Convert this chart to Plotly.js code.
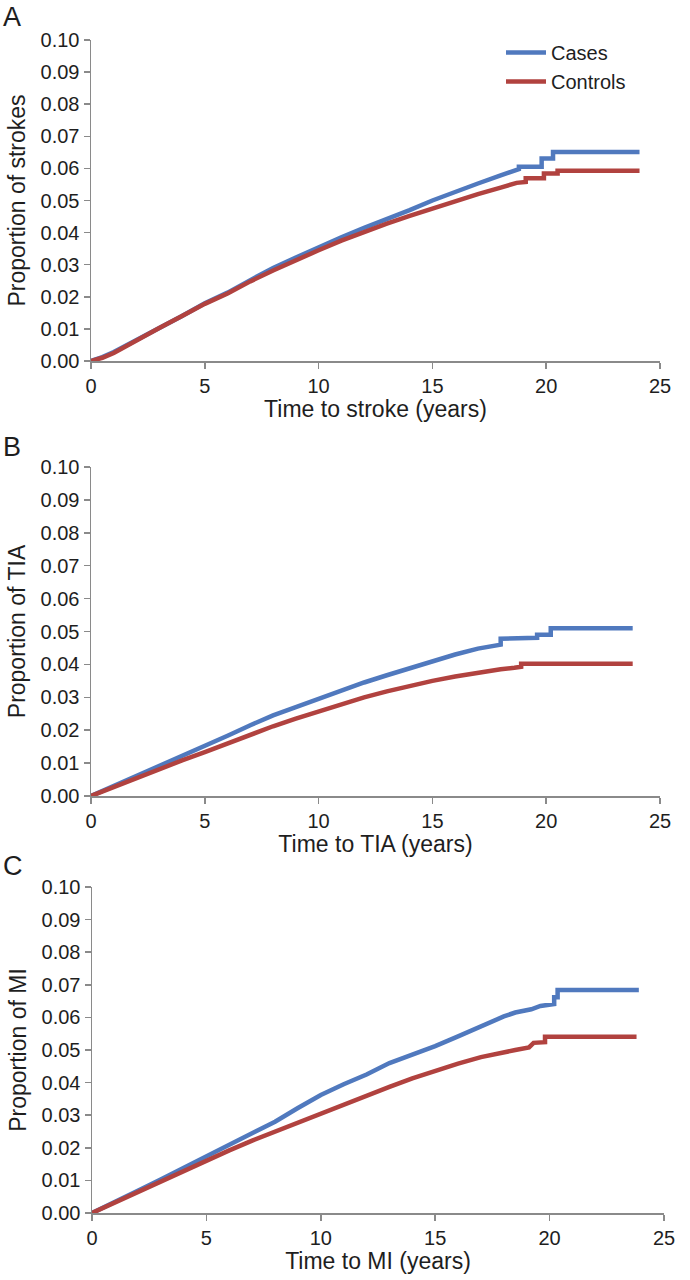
<!DOCTYPE html>
<html>
<head>
<meta charset="utf-8">
<script src="https://cdn.plot.ly/plotly-3.0.1.min.js"></script>
<style>html,body{margin:0;padding:0;background:#fff;} #chart{width:690px;height:1280px;}</style>
</head>
<body>
<div id="chart"></div>
<script>
// ---- Data ----
var seriesNames = ["Cases", "Controls"];
var panelLetters = ["A", "B", "C"];
var xTitles = ["Time to stroke (years)", "Time to TIA (years)", "Time to MI (years)"];
var yTitles = ["Proportion of strokes", "Proportion of TIA", "Proportion of MI"];
var xTickVals = [0, 5, 10, 15, 20, 25];
var yTickVals = [0, 0.01, 0.02, 0.03, 0.04, 0.05, 0.06, 0.07, 0.08, 0.09, 0.10];

// Panel A: stroke
var strokeCasesT = [0,0.5,1,2,3,4,5,6,7,8,9,10,11,12,13,14,15,16,17,18,18.8,18.8,19.8,19.8,20.3,20.3,24.1];
var strokeCasesP = [0,0.0012,0.0028,0.0065,0.0103,0.014,0.018,0.0213,0.0252,0.029,0.0322,0.0355,0.0385,0.0415,0.0442,0.047,0.05,0.0528,0.0553,0.0578,0.0598,0.0605,0.0605,0.0631,0.0631,0.0651,0.0651];
var strokeCtrlT = [0,0.5,1,2,3,4,5,6,7,8,9,10,11,12,13,14,15,16,17,18,18.7,19.1,19.1,19.9,19.9,20.5,20.5,24.1];
var strokeCtrlP = [0,0.001,0.0025,0.0065,0.0103,0.014,0.0178,0.021,0.0248,0.0282,0.0315,0.0345,0.0375,0.0402,0.0428,0.0452,0.0475,0.0498,0.052,0.054,0.0555,0.0558,0.0569,0.0569,0.0584,0.0584,0.0593,0.0593];

// Panel B: TIA
var tiaCasesT = [0,1,2,3,4,5,6,7,8,9,10,11,12,13,14,15,16,17,18.0,18.0,19.6,19.6,20.2,20.2,23.8];
var tiaCasesP = [0,0.003,0.0063,0.0093,0.0123,0.0153,0.0183,0.0215,0.0245,0.027,0.0296,0.0322,0.0345,0.0367,0.0388,0.041,0.043,0.0448,0.046,0.0478,0.0481,0.049,0.049,0.051,0.051];
var tiaCtrlT = [0,1,2,3,4,5,6,7,8,9,10,11,12,13,14,15,16,17,18,18.6,18.9,18.9,23.8];
var tiaCtrlP = [0,0.0027,0.0056,0.0083,0.0108,0.0133,0.016,0.0187,0.0212,0.0235,0.0257,0.0279,0.03,0.0318,0.0335,0.035,0.0363,0.0375,0.0385,0.039,0.0393,0.0402,0.0402];

// Panel C: MI
var miCasesT = [0,1,2,3,4,5,6,7,8,9,10,11,12,13,14,15,16,17,18,18.5,19.2,19.6,20.2,20.2,20.35,20.35,23.9];
var miCasesP = [0,0.0033,0.0068,0.0103,0.0138,0.0173,0.021,0.0245,0.028,0.0322,0.0362,0.0395,0.0425,0.046,0.0485,0.0512,0.0542,0.0573,0.0603,0.0615,0.0625,0.0635,0.0641,0.0662,0.0662,0.0684,0.0684];
var miCtrlT = [0,1,2,3,4,5,6,7,8,9,10,11,12,13,14,15,16,17,17.6,18.5,19.1,19.3,19.8,19.8,23.8];
var miCtrlP = [0,0.0032,0.0065,0.0097,0.013,0.0162,0.0192,0.0222,0.025,0.0277,0.0303,0.0332,0.036,0.0387,0.0413,0.0437,0.0458,0.0478,0.0488,0.05,0.0508,0.0522,0.0524,0.0541,0.0541];

// ---- Styling ----
var colCases = "#5079BE";
var colCtrl = "#B1423F";
var axisCol = "#8a8a8a";
var FONT = "Liberation Sans, Arial, Helvetica, sans-serif";

var panels = [
  {cT: strokeCasesT, cP: strokeCasesP, kT: strokeCtrlT, kP: strokeCtrlP},
  {cT: tiaCasesT, cP: tiaCasesP, kT: tiaCtrlT, kP: tiaCtrlP},
  {cT: miCasesT, cP: miCasesP, kT: miCtrlT, kP: miCtrlP}
];

var H = 1280, W = 690;
var xPix = [[91, 660], [91, 660], [92, 664]];
var yPix = [[40, 361], [467, 796], [887, 1213]]; // top, bottom
var letterY = [17, 447, 866];

var traces = [];
var layout = {
  width: W, height: H,
  margin: {l: 0, r: 0, t: 0, b: 0},
  paper_bgcolor: "#fff", plot_bgcolor: "#fff",
  font: {family: FONT, color: "#1e1e1e", size: 20},
  showlegend: true,
  legend: {x: 501 / W, y: 1 - 33 / H, xanchor: "left", yanchor: "top",
           font: {family: FONT, size: 20, color: "#1e1e1e"}, bgcolor: "rgba(0,0,0,0)",
           tracegroupgap: 0, itemwidth: 40},
  annotations: []
};

panels.forEach(function (p, i) {
  var sfx = i === 0 ? "" : String(i + 1);
  traces.push({x: p.cT, y: p.cP, type: "scatter", mode: "lines", name: seriesNames[0],
    line: {color: colCases, width: 4.5}, xaxis: "x" + sfx, yaxis: "y" + sfx,
    showlegend: i === 0, legendgroup: "cases"});
  traces.push({x: p.kT, y: p.kP, type: "scatter", mode: "lines", name: seriesNames[1],
    line: {color: colCtrl, width: 4.5}, xaxis: "x" + sfx, yaxis: "y" + sfx,
    showlegend: i === 0, legendgroup: "ctrl"});

  var axCommon = {showline: true, linecolor: axisCol, linewidth: 1.5, ticks: "outside",
    ticklen: 6, tickwidth: 1.5, tickcolor: axisCol, showgrid: false, zeroline: false,
    tickfont: {family: FONT, size: 20, color: "#1e1e1e"}, fixedrange: true};
  layout["xaxis" + sfx] = Object.assign({}, axCommon, {
    domain: [xPix[i][0] / W, xPix[i][1] / W], range: [0, 25],
    tickvals: xTickVals, anchor: "y" + sfx,
    title: {text: xTitles[i], font: {family: FONT, size: 23, color: "#1e1e1e"}, standoff: 5}
  });
  layout["yaxis" + sfx] = Object.assign({}, axCommon, {
    domain: [1 - yPix[i][1] / H, 1 - yPix[i][0] / H], range: [0, 0.1],
    tickvals: yTickVals, tickformat: ".2f", anchor: "x" + sfx,
    title: {text: yTitles[i], font: {family: FONT, size: 23, color: "#1e1e1e"}, standoff: 8}
  });
  layout.annotations.push({text: panelLetters[i], xref: "paper", yref: "paper",
    x: 2 / W, y: 1 - letterY[i] / H, xanchor: "left", yanchor: "middle",
    showarrow: false, borderpad: 0, font: {family: FONT, size: 27, color: "#1e1e1e"}});
});

Plotly.newPlot("chart", traces, layout, {displayModeBar: false, staticPlot: true});
</script>
</body>
</html>
